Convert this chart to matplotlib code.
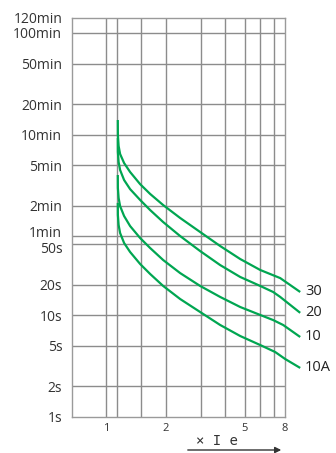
import numpy as np
import matplotlib.pyplot as plt
import matplotlib.transforms as mtransforms

# tripping curves: multiple of rated current (x Ie) vs. tripping time [s]
x_head = [1.146, 1.147, 1.157, 1.177, 1.233, 1.322, 1.485, 1.668, 1.941, 2.365,
          2.984, 3.765, 4.752, 5.997]

x_30 = x_head + [7.565, 9.546]
t_30 = [838, 597, 465, 388, 316, 258, 196, 157, 122, 91,
        66.2, 48.2, 35.9, 28.0, 23.3, 17.0]

x_20 = x_head + [6.97, 7.565, 9.546]
t_20 = [557, 406, 323, 270, 215, 175, 137, 109, 83.0, 60.4,
        43.0, 31.3, 23.9, 19.5, 17.0, 15.2, 10.6]

x_10 = x_head + [6.97, 7.83, 9.546]
t_10 = [241, 179, 143, 119, 95.1, 75.8, 57.8, 46.1, 35.1, 26.1,
        19.5, 15.2, 12.1, 10.1, 9.0, 8.05, 6.13]

x_10a = x_head + [7.14, 8.02, 9.546]
t_10a = [128, 97.3, 77.6, 64.7, 51.6, 42.1, 32.1, 25.6, 19.5, 14.5,
         10.8, 8.05, 6.27, 5.11, 4.36, 3.72, 3.04]

curve_labels = ["30", "20", "10", "10A"]

y_ticks = [1, 2, 5, 10, 20, 50, 60, 120, 300, 600, 1200, 3000, 6000]
y_ticklabels = ["1s", "2s", "5s", "10s", "20s", "50s", "1min", "2min", "5min",
                "10min", "20min", "50min", "100min"]
x_grid = [1, 1.13, 1.5, 2, 3, 4, 5, 6, 7]
x_ticks = [1, 2, 5, 8]

GREEN = "#00a651"
GRID = "#8c8c8c"

fig = plt.figure(figsize=(3.36, 4.53), dpi=100)
ax = fig.add_axes([72 / 336, 1 - 417 / 453, 213 / 336, 399 / 453])
ax.set_xscale("log")
ax.set_yscale("log")
ax.set_xlim(0.673, 8.0)
y_top = 8460
ax.set_ylim(1, y_top)

for xv in x_grid:
    ax.axvline(xv, color=GRID, lw=1.0, zorder=1)
for yv in y_ticks[1:]:
    ax.axhline(yv, color=GRID, lw=1.0, zorder=1)

for sp in ax.spines.values():
    sp.set_color("#9a9a9a")
    sp.set_linewidth(1.0)

curves = [(x_30, t_30), (x_20, t_20), (x_10, t_10), (x_10a, t_10a)]
for (xs, ts), lab in zip(curves, curve_labels):
    ax.plot(xs, ts, color=GREEN, lw=1.6, clip_on=False, zorder=3,
            solid_capstyle="butt", solid_joinstyle="round")
    ax.text(10.1, ts[-1], lab, fontsize=10.5, color="#222222",
            ha="left", va="center", family="Open Sans")

ax.minorticks_off()
ax.set_yticks(y_ticks + [y_top])
ax.set_yticklabels(y_ticklabels + ["120min"], fontsize=10, color="#333333",
                   family="Open Sans")
ax.set_xticks(x_ticks)
ax.set_xticklabels([str(v) for v in x_ticks], fontsize=8, color="#333333",
                   family="Open Sans")
ax.tick_params(axis="both", length=0)
ax.tick_params(axis="y", pad=7)
ax.tick_params(axis="x", pad=4)

# nudge the crowded labels apart
for lab in ax.get_yticklabels():
    txt = lab.get_text()
    if txt == "1min":
        lab.set_transform(lab.get_transform() + mtransforms.ScaledTranslation(0, 5 / 100, fig.dpi_scale_trans))
    elif txt == "50s":
        lab.set_transform(lab.get_transform() + mtransforms.ScaledTranslation(0, -3 / 100, fig.dpi_scale_trans))
    elif txt in ("100min", "120min"):
        lab.set_transform(lab.get_transform() + mtransforms.ScaledTranslation(0, 1 / 100, fig.dpi_scale_trans))

fig.text(217 / 336, 12 / 453, "× I e", fontsize=10, color="#333333",
         ha="center", va="center", family="DejaVu Sans Mono")
ax.annotate("", xy=(284 / 336, 3 / 453), xytext=(185 / 336, 3 / 453),
            xycoords="figure fraction", textcoords="figure fraction",
            arrowprops=dict(arrowstyle="-|>", color="#333333", lw=1.0,
                            mutation_scale=9))

fig.savefig("out.png", dpi=100)
